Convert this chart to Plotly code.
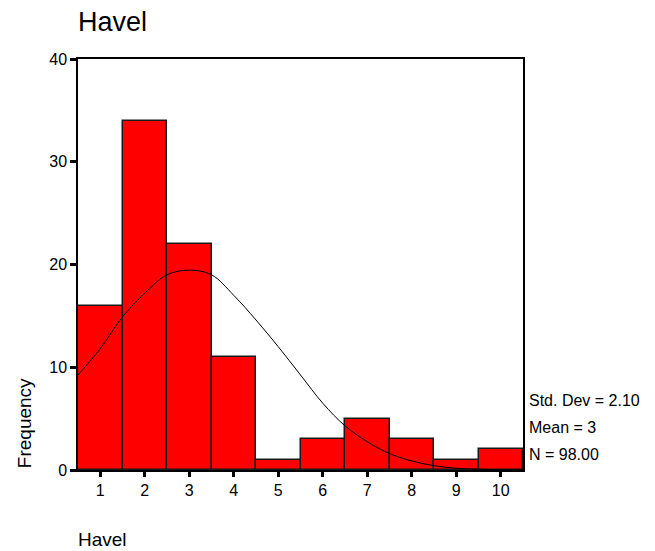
import plotly.graph_objects as go

# Histogram data
categories = [1, 2, 3, 4, 5, 6, 7, 8, 9, 10]
frequencies = [16, 34, 22, 11, 1, 3, 5, 3, 1, 2]

# Normal curve overlay at half-unit steps
curve_x = [0.5, 1.0, 1.5, 2.0, 2.5, 3.0, 3.5, 4.0, 4.5, 5.0, 5.5,
           6.0, 6.5, 7.0, 7.5, 8.0, 8.5, 9.0, 9.5, 10.0, 10.5]
curve_y = [9.25, 11.8, 14.9, 17.2, 19.0, 19.45, 19.0, 17.0, 14.6, 12.0, 9.25,
           6.5, 4.3, 2.75, 1.6, 0.88, 0.42, 0.17, 0.07, 0.02, 0.01]

y_ticks = [0, 10, 20, 30, 40]
stats_lines = ["Std. Dev = 2.10", "Mean = 3", "N = 98.00"]

FONT = "Liberation Sans, Arial, sans-serif"

# The page body has an 8px margin, so the figure is 8px smaller on each axis
W, H = 647, 543
ML, MR, MT, MB = 70, 132, 51, 81

fig = go.Figure()
fig.add_trace(go.Bar(
    x=categories, y=frequencies, width=1,
    marker=dict(color="#FF0000", line=dict(color="#1a1a1a", width=1.5)),
    hoverinfo="x+y",
))
fig.add_trace(go.Scatter(
    x=curve_x, y=curve_y, mode="lines",
    line=dict(color="black", width=1, shape="spline"),
    hoverinfo="skip",
))

fig.update_layout(
    width=W, height=H,
    margin=dict(l=ML, r=MR, t=MT, b=MB),
    paper_bgcolor="white", plot_bgcolor="white",
    showlegend=False, bargap=0,
    font=dict(family=FONT, color="black", size=16),
    title=dict(text="Havel", x=0, xref="paper", xanchor="left",
               y=1 - 14 / H, yref="container", yanchor="middle",
               font=dict(size=27, family=FONT, color="black")),
)
fig.update_xaxes(
    range=[0.5, 10.5], tickvals=categories, ticktext=[str(c) for c in categories],
    showline=True, linecolor="black", linewidth=1.5, mirror=True,
    ticks="outside", ticklen=5, tickwidth=3, tickcolor="black",
    showgrid=False, zeroline=False, tickfont=dict(size=16),
)
fig.update_yaxes(
    range=[0, 40], tickvals=y_ticks,
    showline=True, linecolor="black", linewidth=1.5, mirror=True,
    ticks="outside", ticklen=6, tickwidth=3, tickcolor="black",
    showgrid=False, zeroline=False, tickfont=dict(size=16),
)

# Axis titles positioned SPSS-style
fig.add_annotation(text="Frequency", textangle=-90, xref="paper", yref="paper",
                   x=-0.121, y=0, xanchor="center", yanchor="bottom",
                   showarrow=False, font=dict(size=19))
fig.add_annotation(text="Havel", xref="paper", yref="paper",
                   x=-0.004, y=-0.168, xanchor="left", yanchor="middle",
                   showarrow=False, font=dict(size=19))

# Statistics text
stat_y = [0.170, 0.103, 0.0365]
for txt, yy in zip(stats_lines, stat_y):
    fig.add_annotation(text=txt, xref="paper", yref="paper", x=1.009, y=yy,
                       xanchor="left", yanchor="middle", showarrow=False,
                       font=dict(size=16))

fig.write_html("out.html")
